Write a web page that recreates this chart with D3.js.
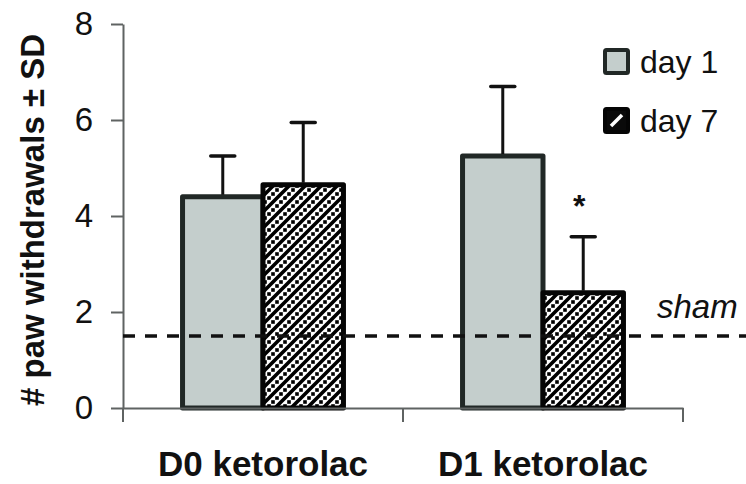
<!DOCTYPE html>
<html>
<head>
<meta charset="utf-8">
<script src="https://cdn.jsdelivr.net/npm/d3@7"></script>
<style>
    html, body { margin: 0; padding: 0; background: #ffffff; }
    #chart { width: 746px; height: 484px; }
    svg text { font-family: 'Liberation Sans', Arial, sans-serif; }
</style>
</head>
<body>
<div id="chart"></div>
<script>
const categories = ['D0 ketorolac', 'D1 ketorolac'];
const seriesNames = ['day 1', 'day 7'];
const day1Means = [4.4, 5.25];
const day1Sd = [0.85, 1.45];
const day7Means = [4.65, 2.4];
const day7Sd = [1.3, 1.17];
const shamValue = 1.5;
const shamLabel = 'sham';
const yTicks = [0, 2, 4, 6, 8];
const yTitle = '# paw withdrawals \u00b1 SD';
const starFlags = [[false, false], [false, true]];

class CreateGroupedBarD3 {
    constructor({ target, setting }) {
        this.setting = setting;
        this.init({ _target: target });
    }
    elementInit({ _target }) {
        this.elements = {
            wrap: _target,
            size: { width: 746, height: 484 },
            plot: { left: 123, right: 683, top: 24, bottom: 408 },
        };
        this.svg = d3
            .select(`#${_target}`)
            .append('svg')
            .attr('width', this.elements.size.width)
            .attr('height', this.elements.size.height);
    }
    dataInit() {
        // one row per category, one entry per series
        this.data = categories.map((_cat, i) => ({
            category: _cat,
            values: [
                { key: seriesNames[0], mean: day1Means[i], sd: day1Sd[i], star: starFlags[i][0] },
                { key: seriesNames[1], mean: day7Means[i], sd: day7Sd[i], star: starFlags[i][1] },
            ],
        }));
    }
    scaleInit() {
        const { plot } = this.elements;
        this.x0 = d3.scaleBand().domain(categories).range([plot.left, plot.right]);
        this.x1 = d3
            .scaleBand()
            .domain(seriesNames)
            .range([0, this.x0.bandwidth()])
            .paddingInner(0)
            .paddingOuter(0.74);
        this.y = d3.scaleLinear().domain([0, 8]).range([plot.bottom, plot.top]);
    }
    patternCreate() {
        const defs = this.svg.append('defs');
        const p = defs
            .append('pattern')
            .attr('id', 'hatch')
            .attr('patternUnits', 'userSpaceOnUse')
            .attr('width', 16)
            .attr('height', 16);
        p.append('rect').attr('width', 16).attr('height', 16).attr('fill', '#ffffff');
        p.append('path')
            .attr('d', 'M-4,4L4,-4M0,16L16,0M12,20L20,12')
            .attr('stroke', '#000')
            .attr('stroke-width', 3.6);
        const dots = [[2, 6], [6, 2], [10, 14], [14, 10]];
        p.selectAll('rect.dot')
            .data(dots)
            .join('rect')
            .attr('class', 'dot')
            .attr('x', (d) => d[0] - 1.8)
            .attr('y', (d) => d[1] - 1.8)
            .attr('width', 3.6)
            .attr('height', 3.6)
            .attr('fill', '#000');
    }
    fillOf(_key) {
        return _key === seriesNames[0] ? '#c4cecc' : 'url(#hatch)';
    }
    strokeOf(_key) {
        return _key === seriesNames[0] ? '#212826' : '#050505';
    }
    axisCreate() {
        const { plot } = this.elements;
        const yAxis = this.svg
            .append('g')
            .attr('transform', `translate(${plot.left},0)`)
            .call(
                d3.axisLeft(this.y).tickValues(yTicks).tickSize(12).tickSizeOuter(0).tickPadding(18)
            );
        yAxis.select('.domain').attr('stroke', '#5f6362').attr('stroke-width', 2);
        yAxis.selectAll('.tick line').attr('stroke', '#5f6362').attr('stroke-width', 2);
        yAxis.selectAll('.tick text')
            .attr('fill', '#111')
            .style('font-size', '33px');

        const xAxis = this.svg
            .append('g')
            .attr('transform', `translate(0,${plot.bottom})`)
            .call(d3.axisBottom(this.x0).tickSize(0).tickSizeOuter(0).tickPadding(43));
        xAxis.select('.domain').attr('stroke', '#5f6362').attr('stroke-width', 2);
        xAxis.selectAll('.tick text')
            .attr('fill', '#111')
            .style('font-size', '35px')
            .style('font-weight', 'bold');

        // category boundary ticks
        const bounds = categories.map((c) => this.x0(c)).concat([this.x0.range()[1]]);
        xAxis.selectAll('line.bound')
            .data(bounds)
            .join('line')
            .attr('class', 'bound')
            .attr('x1', (d) => d)
            .attr('x2', (d) => d)
            .attr('y1', 0)
            .attr('y2', 14)
            .attr('stroke', '#5f6362')
            .attr('stroke-width', 2);

        this.svg
            .append('text')
            .attr('transform', `translate(44,${(plot.top + plot.bottom) / 2 + 4}) rotate(-90)`)
            .attr('text-anchor', 'middle')
            .attr('fill', '#111')
            .style('font-size', '33px')
            .style('font-weight', 'bold')
            .text(yTitle);
    }
    barCreate() {
        const groups = this.svg
            .append('g')
            .selectAll('g')
            .data(this.data)
            .join('g')
            .attr('transform', (d) => `translate(${this.x0(d.category)},0)`);

        groups
            .selectAll('rect')
            .data((d) => d.values)
            .join('rect')
            .attr('x', (d) => this.x1(d.key))
            .attr('y', (d) => this.y(d.mean))
            .attr('width', this.x1.bandwidth())
            .attr('height', (d) => this.y(0) - this.y(d.mean))
            .attr('fill', (d) => this.fillOf(d.key))
            .attr('stroke', (d) => this.strokeOf(d.key))
            .attr('stroke-width', 5)
            .attr('stroke-linejoin', 'round');

        const cx = (d) => this.x1(d.key) + this.x1.bandwidth() / 2;
        groups
            .selectAll('line.err')
            .data((d) => d.values)
            .join('line')
            .attr('class', 'err')
            .attr('x1', cx)
            .attr('x2', cx)
            .attr('y1', (d) => this.y(d.mean) - 2)
            .attr('y2', (d) => this.y(d.mean + d.sd))
            .attr('stroke', '#111')
            .attr('stroke-width', 3);
        groups
            .selectAll('line.cap')
            .data((d) => d.values)
            .join('line')
            .attr('class', 'cap')
            .attr('x1', (d) => cx(d) - 12)
            .attr('x2', (d) => cx(d) + 12)
            .attr('y1', (d) => this.y(d.mean + d.sd))
            .attr('y2', (d) => this.y(d.mean + d.sd))
            .attr('stroke', '#111')
            .attr('stroke-width', 3.5)
            .attr('stroke-linecap', 'round');
        groups
            .selectAll('text.star')
            .data((d) => d.values.filter((v) => v.star))
            .join('text')
            .attr('class', 'star')
            .attr('x', (d) => cx(d) - 4)
            .attr('y', (d) => this.y(d.mean + d.sd) - 20)
            .attr('text-anchor', 'middle')
            .attr('fill', '#111')
            .style('font-size', '32px')
            .style('font-weight', 'bold')
            .text('*');
    }
    shamCreate() {
        const { plot, size } = this.elements;
        this.svg
            .append('line')
            .attr('x1', plot.left)
            .attr('x2', size.width)
            .attr('y1', this.y(shamValue))
            .attr('y2', this.y(shamValue))
            .attr('stroke', '#111')
            .attr('stroke-width', 3.5)
            .attr('stroke-dasharray', '12,10');
        this.svg
            .append('text')
            .attr('x', 657)
            .attr('y', this.y(shamValue) - 18)
            .attr('fill', '#111')
            .style('font-size', '33px')
            .style('font-style', 'italic')
            .text(shamLabel);
    }
    legendCreate() {
        const legend = this.svg
            .append('g')
            .attr('transform', 'translate(605,50)')
            .selectAll('g')
            .data(seriesNames)
            .join('g')
            .attr('transform', (d, i) => `translate(0,${i * 59})`);
        legend
            .append('rect')
            .attr('width', 23)
            .attr('height', 23)
            .attr('fill', (d) => (d === seriesNames[0] ? '#c4cecc' : '#0a0a0a'))
            .attr('stroke', (d) => this.strokeOf(d))
            .attr('stroke-width', 4)
            .attr('rx', 1.5);
        legend
            .filter((d) => d !== seriesNames[0])
            .append('path')
            .attr('d', 'M6,17L17,6')
            .attr('stroke', '#fff')
            .attr('stroke-width', 3.5);
        legend
            .append('text')
            .attr('x', 35)
            .attr('y', 23)
            .attr('fill', '#111')
            .style('font-size', '32px')
            .text((d) => d);
    }
    init({ _target }) {
        this.elementInit({ _target });
        this.dataInit();
        this.scaleInit();
        this.patternCreate();
        this.barCreate();
        this.axisCreate();
        this.shamCreate();
        this.legendCreate();
    }
}

new CreateGroupedBarD3({ target: 'chart', setting: {} });
</script>
</body>
</html>
